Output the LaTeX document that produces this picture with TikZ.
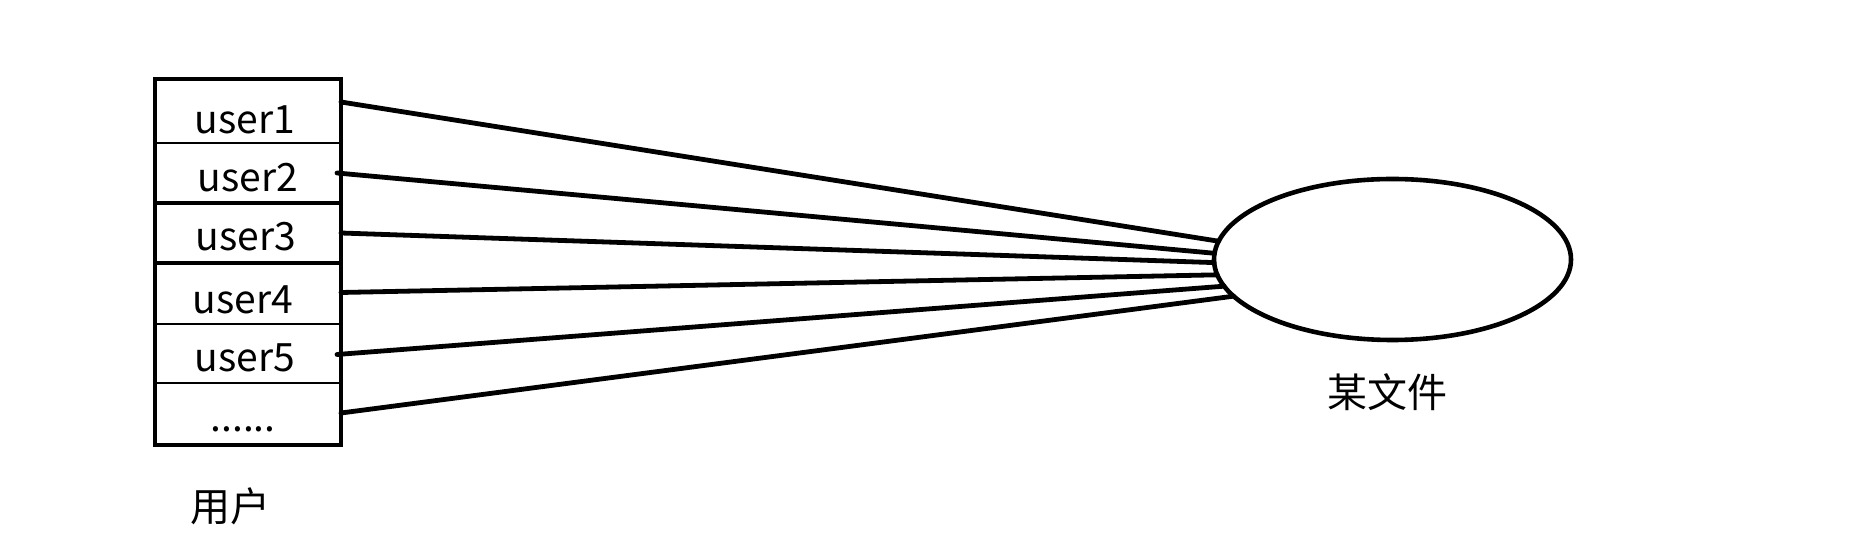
\documentclass[tikz,border=0pt]{standalone}
\usepackage{fontspec}
\setmainfont{Noto Sans CJK SC}
\usetikzlibrary{shapes.geometric}
\begin{document}
\begin{tikzpicture}[x=0.5pt,y=-0.5pt,
  cell/.style={minimum width=93pt,minimum height=#1,inner sep=0pt,outer sep=0pt},
  lbl/.style={font=\fontsize{19.5pt}{24pt}\selectfont,inner sep=0pt,anchor=base},
  thin/.style={line width=1.1pt},
  mid/.style={line width=1.6pt},
  conn/.style={line width=2.4pt,line cap=round},
  filenode/.style={ellipse,draw,line width=2.3pt,minimum width=178.5pt,minimum height=80.5pt,inner sep=0pt,outer sep=0pt}]
\useasboundingbox (0,0) rectangle (1859,560);
% cells
\node[cell=32pt] (u1) at (248,111) {};
\node[cell=30pt] (u2) at (248,173) {};
\node[cell=30pt] (u3) at (248,233) {};
\node[cell=30.5pt] (u4) at (248,293.5) {};
\node[cell=29.5pt] (u5) at (248,353.5) {};
\node[cell=31pt] (u6) at (248,414) {};
% texts
\node[lbl] (t1) at (245,134) {user1};
\node[lbl] (t2) at (248,192) {user2};
\node[lbl] (t3) at (246,251) {user3};
\node[lbl] (t4) at (243,314) {user4};
\node[lbl] (t5) at (245,372) {user5};
\node[lbl] (t6) at (243,432) {......};
% dividers
\draw[thin] (u1.south west) -- (u1.south east);
\draw[mid] (u2.south west) -- (u2.south east);
\draw[mid] (u3.south west) -- (u3.south east);
\draw[thin] (u4.south west) -- (u4.south east);
\draw[thin] (u5.south west) -- (u5.south east);
% outer box
\draw[line width=2.3pt] (u1.north west) rectangle (u6.south east);
% file
\node[filenode] (f) at (1392.5,259.5) {};
\node[font=\fontsize{20pt}{24pt}\selectfont,inner sep=0pt] (fl) at (1387,392) {某文件};
\node[font=\fontsize{20pt}{24pt}\selectfont,inner sep=0pt] (ul) at (230,506) {用户};
% connectors
\draw[conn] ([yshift=4.5pt]u1.east) -- (f.174.2);
\draw[conn] ([xshift=-2pt]u2.east) -- (f.178.7);
\draw[conn] (u3.east) -- (f.181.9);
\draw[conn] ([yshift=0.5pt]u4.east) -- (f.185.4);
\draw[conn] ([xshift=-2pt,yshift=-0.5pt]u5.east) -- (f.189.1);
\draw[conn] ([yshift=0.5pt]u6.east) -- (f.193.7);
\end{tikzpicture}
\end{document}
